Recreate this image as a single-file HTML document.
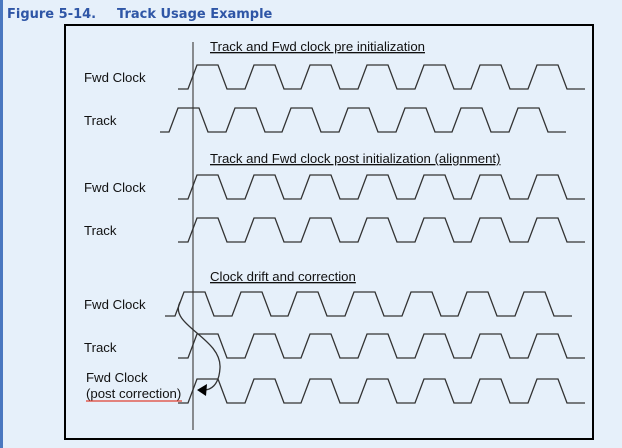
<!DOCTYPE html>
<html><head><meta charset="utf-8"><style>
html,body{margin:0;padding:0;background:#e6f0fa;}
body{width:622px;height:448px;overflow:hidden;position:relative;}
</style></head><body>
<svg width="622" height="448" viewBox="0 0 622 448" xmlns="http://www.w3.org/2000/svg" style="position:absolute;left:0;top:0">
<rect x="0" y="0" width="622" height="448" fill="#e6f0fa"/>
<rect x="0" y="0" width="3" height="448" fill="#4a78c0"/>
<text x="7" y="18" font-family="Verdana, 'DejaVu Sans', sans-serif" font-weight="bold" font-size="13" fill="#2f56a6">Figure 5-14.<tspan x="117">Track Usage Example</tspan></text>
<rect x="65" y="25" width="528" height="414" fill="none" stroke="#000" stroke-width="2"/>
<line x1="193" y1="42" x2="193" y2="430" stroke="#555" stroke-width="1.3"/>
<g font-family="'Liberation Sans', Arial, sans-serif" font-size="13.2" fill="#111">
<text x="210" y="51" text-decoration="underline">Track and Fwd clock pre initialization</text>
<text x="210" y="163" text-decoration="underline">Track and Fwd clock post initialization (alignment)</text>
<text x="210" y="281" text-decoration="underline">Clock drift and correction</text>
<text x="84" y="82">Fwd Clock</text>
<text x="84" y="125">Track</text>
<text x="84" y="192">Fwd Clock</text>
<text x="84" y="235">Track</text>
<text x="84" y="309">Fwd Clock</text>
<text x="84" y="352">Track</text>
<text x="86" y="382">Fwd Clock</text>
<text x="86" y="398">(post correction)</text>
</g>
<line x1="86" y1="401" x2="182" y2="401" stroke="#e04030" stroke-width="1.2"/>
<defs>
<path id="fw" d="M178,24 L188,24 L197,0 L218,0 L227,24 L245,24 L254,0 L275,0 L284,24 L301,24 L310,0 L331,0 L340,24 L358,24 L367,0 L388,0 L397,24 L415,24 L424,0 L445,0 L454,24 L471,24 L480,0 L501,0 L510,24 L528,24 L537,0 L558,0 L567,24 L585,24"/>
</defs>
<g fill="none" stroke="#333" stroke-width="1.3">
<use href="#fw" transform="translate(0,65)"/>
<path d="M160,132 L169,132 L178,108 L199,108 L208,132 L226,132 L235,108 L256,108 L265,132 L282,132 L291,108 L312,108 L321,132 L339,132 L348,108 L369,108 L378,132 L396,132 L405,108 L426,108 L435,132 L452,132 L461,108 L482,108 L491,132 L509,132 L518,108 L539,108 L548,132 L566,132"/>
<use href="#fw" transform="translate(0,175)"/>
<use href="#fw" transform="translate(0,218)"/>
<path d="M165,316 L175,316 L184,292 L205,292 L214,316 L232,316 L241,292 L262,292 L271,316 L288,316 L297,292 L318,292 L327,316 L345,316 L354,292 L375,292 L384,316 L402,316 L411,292 L432,292 L441,316 L458,316 L467,292 L488,292 L497,316 L515,316 L524,292 L545,292 L554,316 L572,316"/>
<use href="#fw" transform="translate(0,334)"/>
<use href="#fw" transform="translate(0,379)"/>
<path d="M180,302 C168,325 222,338 220,368 C219,386 210,390 204,390"/>
</g>
<polygon points="197,390 207,384 206,396" fill="#000"/>
</svg>
</body></html>
